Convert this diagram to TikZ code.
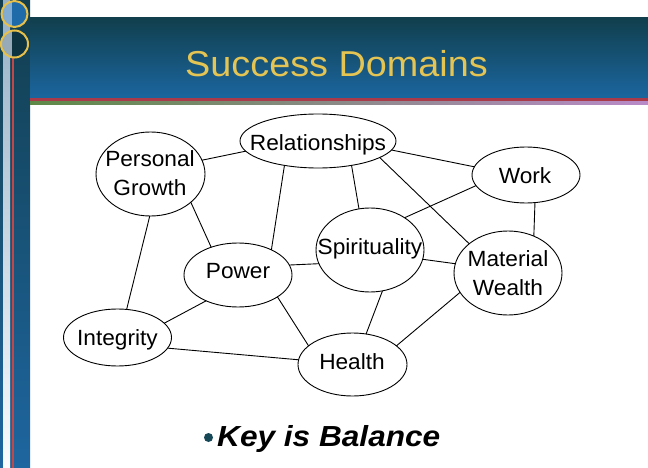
\documentclass[tikz,border=0pt]{standalone}
\usepackage{fontspec}
\setmainfont{Liberation Sans}
\newfontfamily\nodefont[FakeStretch=1.03]{Liberation Sans}
\newfontfamily\titlefont[FakeStretch=1.05]{Liberation Sans}
\newfontfamily\keyfont[FakeStretch=1.09]{Liberation Sans}
\usetikzlibrary{shapes.geometric}
\definecolor{bartop}{RGB}{18,62,78}
\definecolor{barbot}{RGB}{30,102,160}
\definecolor{hdrtop}{RGB}{17,63,77}
\definecolor{hdrbot}{RGB}{27,102,160}
\definecolor{hdrred}{RGB}{168,58,74}
\definecolor{stripgreen}{RGB}{94,138,72}
\definecolor{stripmid}{RGB}{160,140,150}
\definecolor{strippurple}{RGB}{185,138,200}
\definecolor{gold}{RGB}{228,196,82}
\definecolor{ringgold}{RGB}{230,192,74}
\definecolor{lightstrip}{RGB}{150,176,198}
\definecolor{redline}{RGB}{192,72,72}
\definecolor{bullet}{RGB}{22,72,88}
\definecolor{ringonedark}{RGB}{31,106,168}
\definecolor{ringonelight}{RGB}{130,172,210}
\definecolor{ringtwodark}{RGB}{14,52,66}
\definecolor{ringtwolight}{RGB}{150,170,184}
\begin{document}
\begin{tikzpicture}[x=1pt,y=-1pt,
  ell/.style={ellipse, draw, line width=0.9pt, inner sep=0pt, outer sep=0pt},
  lbl/.style={font=\nodefont\fontsize{22}{29}\selectfont, align=center, inner sep=0pt, anchor=base},
  conn/.style={line width=0.9pt}]
\useasboundingbox (0,0) rectangle (648,468);
% left bar
\shade[top color=bartop, bottom color=barbot] (0,0) rectangle (30,468);
\shade[top color=lightstrip, bottom color=white!95!lightstrip] (3,0) rectangle (10,468);
\fill[redline] (12,58) rectangle (13.5,468);
% header
\shade[top color=hdrtop, bottom color=hdrbot] (30,18) rectangle (648,98.5);
\fill[hdrred] (30,98.5) rectangle (648,101.5);
\shade[left color=stripgreen, middle color=stripmid, right color=strippurple] (30,101.5) rectangle (648,105);
% rings
\begin{scope}
  \clip (14.5,14) circle[radius=13pt];
  \fill[ringonedark] (0,0) rectangle (30,30);
  \fill[ringonelight] (0,0) rectangle (12,30);
\end{scope}
\begin{scope}
  \clip (14.5,44) circle[radius=13.5pt];
  \fill[ringtwodark] (0,28) rectangle (30,60);
  \fill[ringtwolight] (0,28) rectangle (12,60);
\end{scope}
\draw[ringgold, line width=2pt] (14.5,14) circle[radius=13pt];
\draw[ringgold, line width=2pt] (14.5,44) circle[radius=13.5pt];
% title
\node[font=\titlefont\fontsize{36}{40}\selectfont, text=gold, anchor=base, inner sep=0pt] (title) at (336.5,77) {Success Domains};
% ellipses
\node[ell, minimum width=109pt, minimum height=84pt] (pg) at (150.5,174) {};
\node[ell, minimum width=156pt, minimum height=54pt] (rel) at (318,141) {};
\node[ell, minimum width=108pt, minimum height=56pt] (work) at (526,175) {};
\node[ell, minimum width=108pt, minimum height=84pt] (spir) at (370,250) {};
\node[ell, minimum width=108pt, minimum height=84pt] (mw) at (508,273) {};
\node[ell, minimum width=108pt, minimum height=64pt] (pow) at (238,275) {};
\node[ell, minimum width=108pt, minimum height=57pt] (integ) at (117.5,337.5) {};
\node[ell, minimum width=109pt, minimum height=63pt] (health) at (352.5,364.5) {};
% labels
\node[lbl] (pgt) at (150,196) {Personal\\Growth};
\node[lbl] (relt) at (318,150) {Relationships};
\node[lbl] (workt) at (525,183) {Work};
\node[lbl] (spirt) at (370,254) {Spirituality};
\node[lbl] (mwt) at (508,295) {Material\\Wealth};
\node[lbl] (powt) at (238,278) {Power};
\node[lbl] (integt) at (117.5,345) {Integrity};
\node[lbl] (healtht) at (352,369) {Health};
% connectors
\draw[conn] (pg.15) -- (rel.188);
\draw[conn] (pg.-35) -- (pow.134);
\draw[conn] (pg.269) -- (integ.72);
\draw[conn] (rel.216) -- (pow.37);
\draw[conn] (rel.-36) -- (spir.105);
\draw[conn] (rel.-7) -- (work.171);
\draw[conn] (rel.-15) -- (mw.143);
\draw[conn] (work.192) -- (spir.43);
\draw[conn] (work.-72) -- (mw.55);
\draw[conn] (spir.-10) -- (mw.170);
\draw[conn] (pow.11) -- (spir.195);
\draw[conn] (spir.-73) -- (health.66);
\draw[conn] (pow.219) -- (integ.17);
\draw[conn] (pow.-29) -- (health.157);
\draw[conn] (integ.-12) -- (health.175);
\draw[conn] (health.23) -- (mw.202);
% key
\fill[bullet] (208.5,437.5) circle[radius=4.5pt];
\node[font=\keyfont\fontsize{29}{32}\selectfont\bfseries\itshape, anchor=base west, inner sep=0pt] (key) at (217,446) {Key is Balance};
\end{tikzpicture}
\end{document}
